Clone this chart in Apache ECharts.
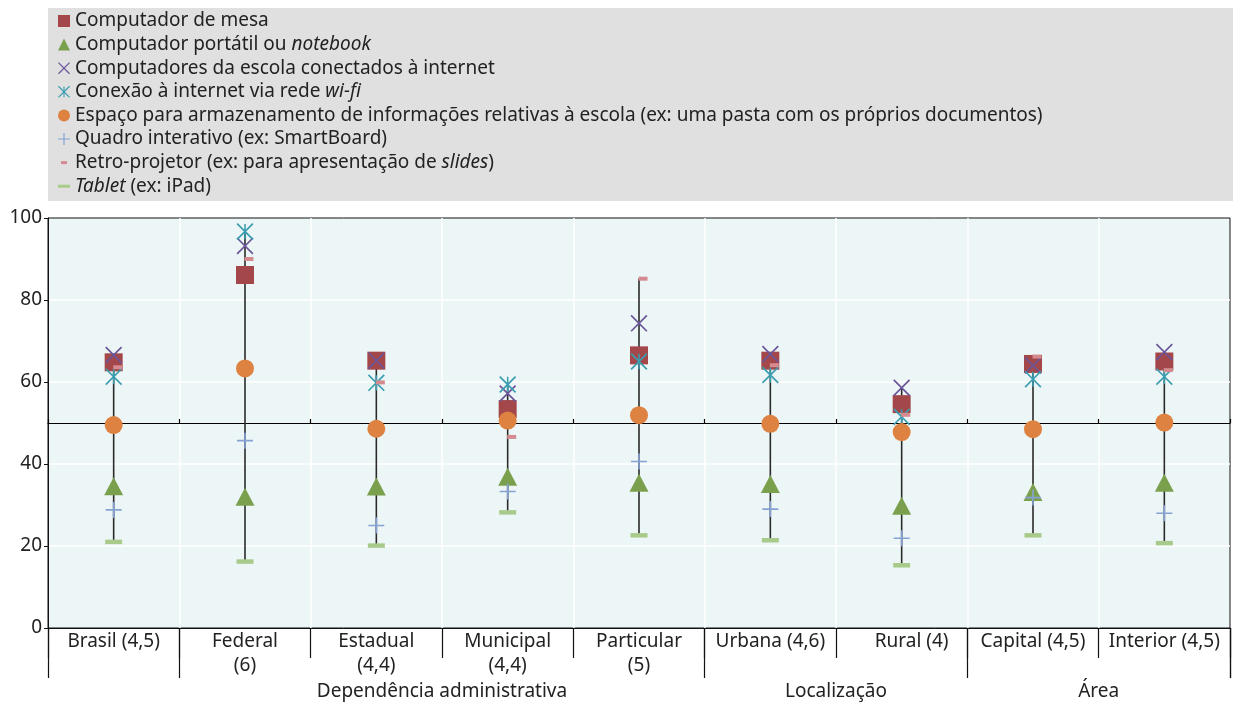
<!DOCTYPE html>
<html><head><meta charset="utf-8">
<script src="https://cdn.jsdelivr.net/npm/echarts@6/dist/echarts.min.js"></script>
<style>html,body{margin:0;padding:0;background:#fff}#c{width:1233px;height:706px}</style>
</head><body><div id="c"></div>
<script>
// categories (order along the x axis)
const categories = ['Brasil (4,5)', 'Federal\n(6)', 'Estadual\n(4,4)', 'Municipal\n(4,4)', 'Particular\n(5)', 'Urbana (4,6)', 'Rural (4)', 'Capital (4,5)', 'Interior (4,5)'];
// group labels and the category spans they cover [from boundary, to boundary]
const groupLabels = ['Dependência administrativa', 'Localização', 'Área'];
const groupSpans = [[1, 5], [5, 7], [7, 9]];
const yTicks = [0, 20, 40, 60, 80, 100];

// series values (%)
const mesa       = [64.8, 86.1, 65.2, 53.4, 66.5, 65.2, 54.6, 64.4, 65.0];
const portatil   = [34.6, 32.0, 34.5, 36.9, 35.4, 35.1, 29.8, 33.2, 35.4];
const conectados = [66.6, 93.2, 65.2, 57.2, 74.3, 66.8, 58.6, 64.0, 67.3];
const wifi       = [61.3, 96.7, 59.8, 59.4, 65.0, 61.7, 51.5, 60.7, 61.3];
const espaco     = [49.5, 63.3, 48.6, 50.6, 51.9, 49.8, 47.8, 48.5, 50.1];
const quadro     = [28.8, 45.7, 25.0, 33.3, 40.6, 29.0, 21.9, 31.8, 28.0];
const retro      = [63.6, 90.0, 59.9, 46.6, 85.2, 64.1, 52.0, 66.2, 62.9];
const tablet     = [21.0, 16.2, 20.1, 28.2, 22.6, 21.4, 15.3, 22.6, 20.7];

const names = [
  'Computador de mesa',
  'Computador portátil ou notebook',
  'Computadores da escola conectados à internet',
  'Conexão à internet via rede wi-fi',
  'Espaço para armazenamento de informações relativas à escola (ex: uma pasta com os próprios documentos)',
  'Quadro interativo (ex: SmartBoard)',
  'Retro-projetor (ex: para apresentação de slides)',
  'Tablet (ex: iPad)'
];
const richNames = {};
richNames[names[1]] = 'Computador portátil ou {i|notebook}';
richNames[names[3]] = 'Conexão à internet via rede {i|wi-fi}';
richNames[names[6]] = 'Retro-projetor (ex: para apresentação de {i|slides})';
richNames[names[7]] = '{i|Tablet} (ex: iPad)';

const FONT = 'Noto Sans';
const X_PATH = 'path://M0,1.4 L1.4,0 L20,18.6 L18.6,20 Z M18.6,0 L20,1.4 L1.4,20 L0,18.6 Z';
const STAR_PATH = 'path://M0,1.4 L1.4,0 L20,18.6 L18.6,20 Z M18.6,0 L20,1.4 L1.4,20 L0,18.6 Z M9.1,1 L10.9,1 L10.9,19 L9.1,19 Z';
const PLUS_PATH = 'path://M9,0 L11,0 L11,20 L9,20 Z M0,9 L20,9 L20,11 L0,11 Z';
const SMALLDASH_ICON = 'path://M0,0 M12,12 M3,4.5 L9,4.5 L9,7.5 L3,7.5 Z';
const DASH_ICON = 'path://M0,0 M12,12 M0,4.5 L12,4.5 L12,7.5 L0,7.5 Z';

const seriesDefs = [
  {data: mesa, color: '#a3474a', symbol: 'rect', size: 18},
  {data: portatil, color: '#7aa04e', symbol: 'triangle', size: [19, 18]},
  {data: conectados, color: '#6a559a', symbol: X_PATH, size: 17},
  {data: wifi, color: '#3a9db0', symbol: STAR_PATH, size: 17},
  {data: espaco, color: '#dd8241', symbol: 'circle', size: 18},
  {data: quadro, color: '#86a2d4', symbol: PLUS_PATH, size: 16},
  {data: retro, color: '#d48a8e', symbol: 'rect', size: [9, 4], offset: [4, 0]},
  {data: tablet, color: '#a8cb8c', symbol: 'rect', size: [17, 4.5]}
];
const legendIcons = ['rect', 'triangle', X_PATH, STAR_PATH, 'circle', PLUS_PATH, SMALLDASH_ICON, DASH_ICON];

// min-max ranges for the vertical lines
const ranges = categories.map((c, i) => {
  const vals = seriesDefs.map(s => s.data[i]);
  return [i, Math.min(...vals), Math.max(...vals)];
});

const groupLabelByValue = {};
groupSpans.forEach((s, k) => { groupLabelByValue[(s[0] + s[1]) / 2] = groupLabels[k]; });
const groupBoundaries = [0];
groupSpans.forEach(s => { groupBoundaries.push(s[0]); groupBoundaries.push(s[1]); });
const uniqBoundaries = [...new Set(groupBoundaries)];

const chart = echarts.init(document.getElementById('c'), null, {renderer: 'canvas'});
const option = {
  animation: false,
  backgroundColor: '#ffffff',
  textStyle: {fontFamily: FONT},
  graphic: [{
    type: 'rect', left: 48, top: 8, z: -10,
    shape: {width: 1185, height: 193},
    style: {fill: '#e0e0e0'}
  }],
  legend: {
    orient: 'vertical', left: 58, top: 11, padding: 0,
    itemWidth: 12, itemHeight: 12, itemGap: 3.6,
    data: names.map((n, k) => ({name: n, icon: legendIcons[k]})),
    formatter: n => richNames[n] || n,
    textStyle: {
      fontFamily: FONT, fontSize: 19, color: '#222', lineHeight: 20,
      rich: {i: {fontFamily: FONT, fontSize: 19, color: '#222', fontStyle: 'italic', lineHeight: 20}}
    },
    selectedMode: false
  },
  grid: {
    left: 48, right: 3, top: 218, bottom: 78,
    show: true, backgroundColor: '#edf6f6', borderColor: '#111', borderWidth: 1
  },
  xAxis: [
    {
      type: 'category', data: categories, position: 'bottom', boundaryGap: true,
      axisLine: {show: true, lineStyle: {color: '#111', width: 1}},
      axisTick: {show: true, interval: 0, length: 30, lineStyle: {color: '#111', width: 1.2}},
      axisLabel: {
        interval: 0, margin: 2, fontFamily: FONT, fontSize: 19, color: '#222', lineHeight: 24,
        formatter: v => v === 'Rural (4)' ? '{r|' + v + '}' : v,
        rich: {r: {fontFamily: FONT, fontSize: 19, color: '#222', lineHeight: 24, padding: [0, 0, 0, 20]}}
      },
      splitLine: {show: true, interval: 0, showMinLine: false, showMaxLine: false, lineStyle: {color: '#ffffff', width: 1.5}}
    },
    {
      type: 'value', min: 0, max: categories.length, position: 'bottom',
      axisLine: {show: false},
      splitLine: {show: false},
      axisTick: {show: true, customValues: uniqBoundaries.concat([categories.length]), length: 50, lineStyle: {color: '#111', width: 1.2}},
      axisLabel: {
        show: true, customValues: Object.keys(groupLabelByValue).map(Number), margin: 52,
        fontFamily: FONT, fontSize: 19, color: '#222', lineHeight: 24,
        formatter: v => groupLabelByValue[v] || ''
      }
    },
    {
      type: 'category', data: categories, position: 'bottom', offset: -205, boundaryGap: true,
      axisLine: {show: true, lineStyle: {color: '#000', width: 1.2}},
      axisTick: {show: true, inside: true, interval: 0, length: 4, lineStyle: {color: '#000', width: 1.2}},
      axisLabel: {show: false},
      splitLine: {show: false}
    }
  ],
  yAxis: {
    type: 'value', min: yTicks[0], max: yTicks[yTicks.length - 1], interval: yTicks[1] - yTicks[0],
    axisLine: {show: true, lineStyle: {color: '#111', width: 1}},
    axisTick: {show: true, length: 4, lineStyle: {color: '#111'}},
    axisLabel: {fontFamily: FONT, fontSize: 19, color: '#222', margin: 6},
    splitLine: {show: true, showMinLine: false, showMaxLine: false, lineStyle: {color: '#ffffff', width: 1.5}}
  },
  series: [
    {
      type: 'custom', name: 'range', xAxisIndex: 0, yAxisIndex: 0, z: 1,
      data: ranges,
      encode: {x: 0, y: [1, 2]},
      renderItem: (params, api) => {
        const i = api.value(0);
        const p1 = api.coord([i, api.value(1)]);
        const p2 = api.coord([i, api.value(2)]);
        return {type: 'line', shape: {x1: p1[0], y1: p1[1], x2: p2[0], y2: p2[1]},
          style: {stroke: '#2a2a2a', lineWidth: 1.6}};
      }
    }
  ].concat(seriesDefs.map((s, k) => ({
    type: 'scatter', name: names[k], xAxisIndex: 0, yAxisIndex: 0, z: 3 + k,
    data: s.data, symbol: s.symbol, symbolSize: s.size, symbolOffset: s.offset || [0, 0],
    itemStyle: {color: s.color, opacity: 1},
    emphasis: {disabled: true}
  })))
};
chart.setOption(option);
</script>
</body></html>
